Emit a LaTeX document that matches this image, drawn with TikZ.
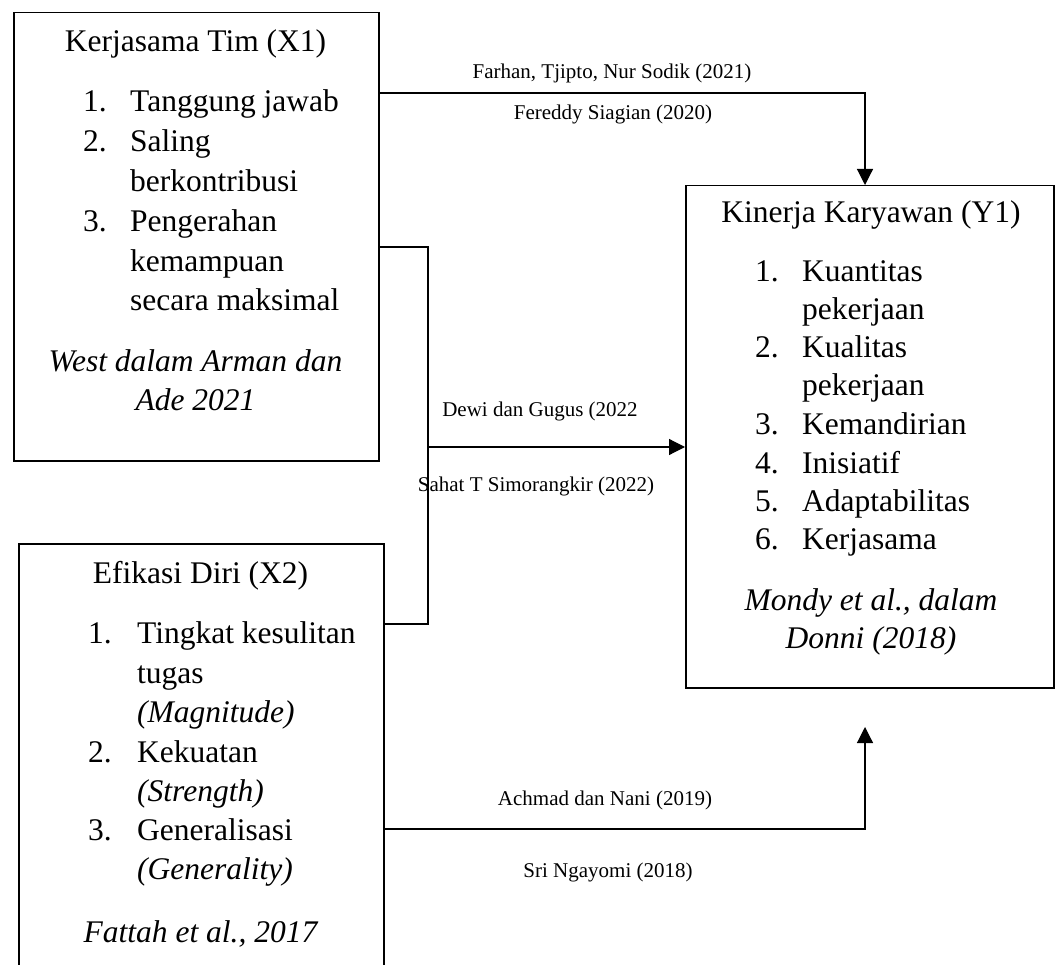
\documentclass[tikz,border=0pt]{standalone}
\usepackage{fontspec}
\setmainfont{Liberation Serif}
\usetikzlibrary{arrows.meta}
\tikzset{
  box/.style={draw, line width=1.5pt, inner sep=0pt, anchor=north west},
  txt/.style={font=\fontsize{31.5}{40}\selectfont, inner sep=0pt, anchor=base west},
  ttl/.style={txt, anchor=base},
  cite/.style={ttl, font=\fontsize{31.5}{40}\selectfont\itshape},
  lbl/.style={font=\fontsize{21}{25}\selectfont, inner sep=0pt, anchor=base},
  conn/.style={line width=1.2pt},
  arr/.style={conn, -{Triangle[length=16pt,width=16pt]}}
}
\begin{document}
\begin{tikzpicture}[x=1pt,y=-1pt]
\useasboundingbox (0,0) rectangle (1055,965);
\clip (0,0) rectangle (1055,965);
% boxes
\node[box, minimum width=365pt, minimum height=448pt] (x1) at (13,12) {};
\node[box, minimum width=365pt, minimum height=480pt] (x2) at (18,543) {};
\node[box, minimum width=368pt, minimum height=502pt] (y1) at (685,185) {};
% X1 text
\node[ttl] (x1t) at (195.5,52) {Kerjasama Tim (X1)};
\node[txt] (x1n1) at (83,112) {1.};
\node[txt] (x1a) at (130,112) {Tanggung jawab};
\node[txt] (x1n2) at (83,152) {2.};
\node[txt] (x1b) at (130,152) {Saling};
\node[txt] (x1c) at (130,192) {berkontribusi};
\node[txt] (x1n3) at (83,232) {3.};
\node[txt] (x1d) at (130,232) {Pengerahan};
\node[txt] (x1e) at (130,272) {kemampuan};
\node[txt] (x1f) at (130,311) {secara maksimal};
\node[cite] (x1s1) at (195.5,372) {West dalam Arman dan};
\node[cite] (x1s2) at (195.5,411) {Ade 2021};
% X2 text
\node[ttl] (x2t) at (200.5,583) {Efikasi Diri (X2)};
\node[txt] (x2n1) at (88,643) {1.};
\node[txt] (x2a) at (137,643) {Tingkat kesulitan};
\node[txt] (x2b) at (137,683) {tugas};
\node[txt, font=\fontsize{31.5}{40}\selectfont\itshape] (x2c) at (137,722) {(Magnitude)};
\node[txt] (x2n2) at (88,762) {2.};
\node[txt] (x2d) at (137,762) {Kekuatan};
\node[txt, font=\fontsize{31.5}{40}\selectfont\itshape] (x2e) at (137,801) {(Strength)};
\node[txt] (x2n3) at (88,840) {3.};
\node[txt] (x2f) at (137,840) {Generalisasi};
\node[txt, font=\fontsize{31.5}{40}\selectfont\itshape] (x2g) at (137,879) {(Generality)};
\node[cite] (x2s) at (200.5,942) {Fattah et al., 2017};
% Y1 text
\node[ttl] (y1t) at (871,223) {Kinerja Karyawan (Y1)};
\node[txt] (yn1) at (755,282) {1.};
\node[txt] (ya) at (802,282) {Kuantitas};
\node[txt] (yb) at (802,320) {pekerjaan};
\node[txt] (yn2) at (755,358) {2.};
\node[txt] (yc) at (802,358) {Kualitas};
\node[txt] (yd) at (802,396) {pekerjaan};
\node[txt] (yn3) at (755,435) {3.};
\node[txt] (ye) at (802,435) {Kemandirian};
\node[txt] (yn4) at (755,473) {4.};
\node[txt] (yf) at (802,473) {Inisiatif};
\node[txt] (yn5) at (755,511) {5.};
\node[txt] (yg) at (802,511) {Adaptabilitas};
\node[txt] (yn6) at (755,549) {6.};
\node[txt] (yh) at (802,549) {Kerjasama};
\node[cite] (ys1) at (871,610) {Mondy et al., dalam};
\node[cite] (ys2) at (871,648) {Donni (2018)};
% connectors
\coordinate (jx) at (428,447);
\coordinate (btip) at (865,727);
\draw[arr] (x1.east |- 0,93) -| (y1.north -| 865,0);
\draw[conn] (x1.east |- 0,247) -| (jx) |- (x2.east |- 0,624);
\draw[arr] (jx) -- (y1.west |- jx);
\draw[arr] (x2.east |- 0,829) -| (btip);
% labels
\node[lbl] (l1) at (612,79) {Farhan, Tjipto, Nur Sodik (2021)};
\node[lbl] (l2) at (613,120) {Fereddy Siagian (2020)};
\node[lbl] (l3) at (540,417) {Dewi dan Gugus (2022};
\node[lbl] (l4) at (536,491) {Sahat T Simorangkir (2022)};
\node[lbl] (l5) at (605,805) {Achmad dan Nani (2019)};
\node[lbl] (l6) at (608,877) {Sri Ngayomi (2018)};
\end{tikzpicture}
\end{document}
